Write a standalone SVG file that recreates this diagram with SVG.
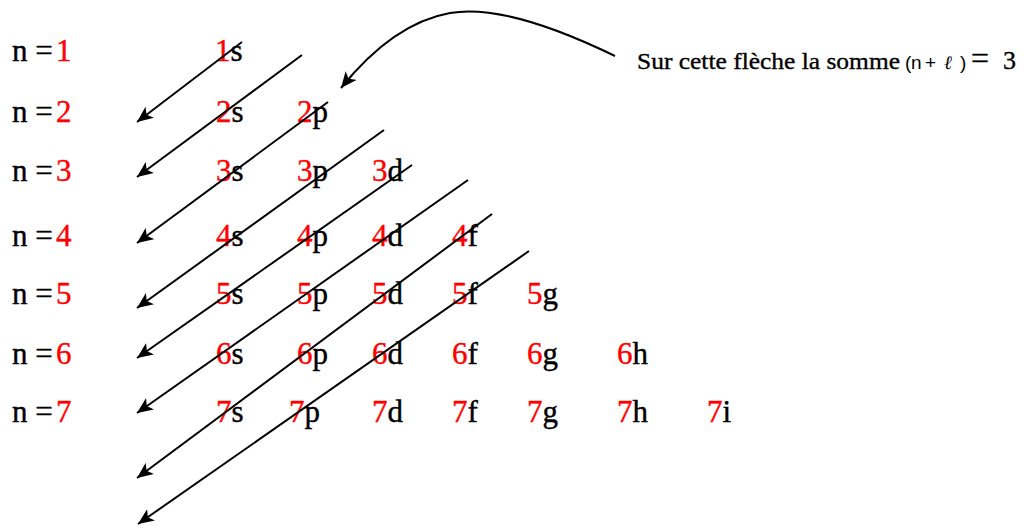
<svg xmlns="http://www.w3.org/2000/svg" width="1024" height="528" viewBox="0 0 1024 528">
<style>
.t{font-family:"Liberation Serif","Times New Roman",serif;font-size:31px;fill:#000;stroke:#000;stroke-width:0.4}
.r{fill:#ff0000;stroke:#ff0000}
.a{stroke:#000;stroke-width:2;fill:none;marker-end:url(#ah)}
.h{font-family:"Liberation Serif","Times New Roman",serif;font-size:24px;fill:#000;stroke:#000;stroke-width:0.35}
.hs{font-family:"Liberation Sans",Arial,sans-serif;font-size:19px;fill:#000}
</style>
<defs>
<marker id="ah" markerUnits="userSpaceOnUse" markerWidth="18" markerHeight="14" refX="16" refY="7" orient="auto">
<path d="M0,0 L16,7 L0,14 L4,7 Z" fill="#000"/>
</marker>
</defs>
<rect width="1024" height="528" fill="#fff"/>
<g id="levels">
<text class="t" x="12" y="61">n =<tspan class="r" x="56">1</tspan></text>
<text class="t" x="12" y="122">n =<tspan class="r" x="56">2</tspan></text>
<text class="t" x="12" y="181">n =<tspan class="r" x="56">3</tspan></text>
<text class="t" x="12" y="246">n =<tspan class="r" x="56">4</tspan></text>
<text class="t" x="12" y="304">n =<tspan class="r" x="56">5</tspan></text>
<text class="t" x="12" y="364">n =<tspan class="r" x="56">6</tspan></text>
<text class="t" x="12" y="422">n =<tspan class="r" x="56">7</tspan></text>
</g>
<g id="orbitals">
<text class="t" x="215" y="61"><tspan class="r">1</tspan>s</text>
<text class="t" y="122"><tspan x="216"><tspan class="r">2</tspan>s</tspan><tspan x="297"><tspan class="r">2</tspan>p</tspan></text>
<text class="t" y="181"><tspan x="216"><tspan class="r">3</tspan>s</tspan><tspan x="297"><tspan class="r">3</tspan>p</tspan><tspan x="372"><tspan class="r">3</tspan>d</tspan></text>
<text class="t" y="246"><tspan x="216"><tspan class="r">4</tspan>s</tspan><tspan x="297"><tspan class="r">4</tspan>p</tspan><tspan x="372"><tspan class="r">4</tspan>d</tspan><tspan x="452"><tspan class="r">4</tspan>f</tspan></text>
<text class="t" y="304"><tspan x="216"><tspan class="r">5</tspan>s</tspan><tspan x="297"><tspan class="r">5</tspan>p</tspan><tspan x="372"><tspan class="r">5</tspan>d</tspan><tspan x="452"><tspan class="r">5</tspan>f</tspan><tspan x="527"><tspan class="r">5</tspan>g</tspan></text>
<text class="t" y="364"><tspan x="216"><tspan class="r">6</tspan>s</tspan><tspan x="297"><tspan class="r">6</tspan>p</tspan><tspan x="372"><tspan class="r">6</tspan>d</tspan><tspan x="452"><tspan class="r">6</tspan>f</tspan><tspan x="527"><tspan class="r">6</tspan>g</tspan><tspan x="617"><tspan class="r">6</tspan>h</tspan></text>
<text class="t" y="422"><tspan x="216"><tspan class="r">7</tspan>s</tspan><tspan x="289"><tspan class="r">7</tspan>p</tspan><tspan x="372"><tspan class="r">7</tspan>d</tspan><tspan x="452"><tspan class="r">7</tspan>f</tspan><tspan x="527"><tspan class="r">7</tspan>g</tspan><tspan x="617"><tspan class="r">7</tspan>h</tspan><tspan x="707"><tspan class="r">7</tspan>i</tspan></text>
</g>
<g id="connectors">
<line class="a" x1="242" y1="42" x2="137" y2="122"/>
<line class="a" x1="302" y1="55" x2="137" y2="177"/>
<line class="a" x1="328" y1="102" x2="137" y2="243"/>
<line class="a" x1="384" y1="130" x2="137" y2="308"/>
<line class="a" x1="412" y1="165" x2="137" y2="358"/>
<line class="a" x1="468" y1="180" x2="137" y2="413"/>
<line class="a" x1="492" y1="214" x2="137" y2="478"/>
<line class="a" x1="529" y1="251" x2="138" y2="524"/>
<path class="a" d="M615,56 C545,22 490,6 450,13 C405,21 370,52 341,88"/>
</g>
<g id="note">
<text class="h" x="637" y="69" textLength="263" lengthAdjust="spacingAndGlyphs">Sur cette flèche la somme</text>
<text class="hs" y="69"><tspan x="905">(</tspan><tspan x="911">n</tspan><tspan x="925">+</tspan><tspan x="944" font-family="'Liberation Serif',serif" font-style="italic">ℓ</tspan><tspan x="960">)</tspan></text>
<text class="h" x="971" y="69" style="font-size:32px">=</text>
<text class="h" x="1003" y="69" style="font-size:26px">3</text>
</g>
</svg>
